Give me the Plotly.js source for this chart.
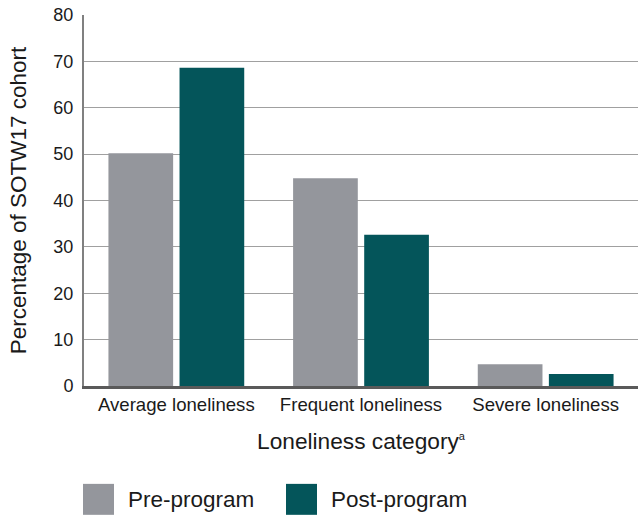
<!DOCTYPE html>
<html>
<head>
<meta charset="utf-8">
<script src="https://cdn.plot.ly/plotly-3.0.1.min.js"></script>
<style>html,body{margin:0;padding:0;background:#fff;}#chart{width:638px;height:516px;}</style>
</head>
<body>
<div id="chart"></div>
<script>
const categories = ['Average loneliness', 'Frequent loneliness', 'Severe loneliness'];
const seriesNames = ['Pre-program', 'Post-program'];
const preProgram = [50.2, 44.8, 4.7];
const postProgram = [68.6, 32.6, 2.6];
const yTicks = [0, 10, 20, 30, 40, 50, 60, 70, 80];
const colors = ['#94969c', '#04555a'];

const font = '"Liberation Sans", Arial, Helvetica, sans-serif';

const traces = [
  {type: 'bar', name: seriesNames[0], x: categories, y: preProgram, marker: {color: colors[0]}, showlegend: false, hoverinfo: 'y'},
  {type: 'bar', name: seriesNames[1], x: categories, y: postProgram, marker: {color: colors[1]}, showlegend: false, hoverinfo: 'y'}
];

// Legend drawn as shapes + text (large swatches as in reference)
const legendItems = [
  {x0: 83, label: seriesNames[0], color: colors[0]},
  {x0: 286, label: seriesNames[1], color: colors[1]}
];
const shapes = legendItems.map(it => ({
  type: 'rect', xref: 'paper', yref: 'paper', layer: 'above',
  x0: (it.x0 - 84) / 554, x1: (it.x0 + 31 - 84) / 554,
  y0: (386 - 515) / 371.5, y1: (386 - 484) / 371.5,
  fillcolor: it.color, line: {width: 0}
}));
const annotations = legendItems.map(it => ({
  xref: 'paper', yref: 'paper', xanchor: 'left', yanchor: 'middle',
  x: (it.x0 + 43 - 84) / 554, y: (386 - 500) / 371.5,
  text: it.label, showarrow: false,
  font: {family: font, size: 22.5, color: '#1a1a1a'}
}));

const layout = {
  width: 638, height: 516,
  margin: {l: 84, r: 0, t: 14.5, b: 130},
  paper_bgcolor: '#fff', plot_bgcolor: '#fff',
  barmode: 'group', bargap: 0.23, bargroupgap: 0.09,
  font: {family: font, color: '#1a1a1a'},
  xaxis: {
    type: 'category', range: [-0.5, 2.5],
    showgrid: false, zeroline: false,
    showline: true, linecolor: '#5a5a5a', linewidth: 2.5,
    ticks: '', tickfont: {family: font, size: 18.6, color: '#1a1a1a'},
    title: {text: 'Loneliness category<sup><span style="font-size:11px">a</span></sup>', font: {family: font, size: 22.7, color: '#1a1a1a'}, standoff: 20}
  },
  yaxis: {
    range: [0, 80], tickvals: yTicks, ticktext: yTicks.map(String),
    showgrid: true, gridcolor: '#a0a0a0', gridwidth: 1.2,
    zeroline: false, showline: true, linecolor: '#808080', linewidth: 2,
    ticks: '', ticklabelstandoff: 5,
    tickfont: {family: font, size: 18, color: '#1a1a1a'},
    title: {text: 'Percentage of SOTW17 cohort', font: {family: font, size: 22.5, color: '#1a1a1a'}, standoff: 20}
  },
  shapes: shapes,
  annotations: annotations
};

Plotly.newPlot('chart', traces, layout, {displayModeBar: false, staticPlot: true});
</script>
</body>
</html>
